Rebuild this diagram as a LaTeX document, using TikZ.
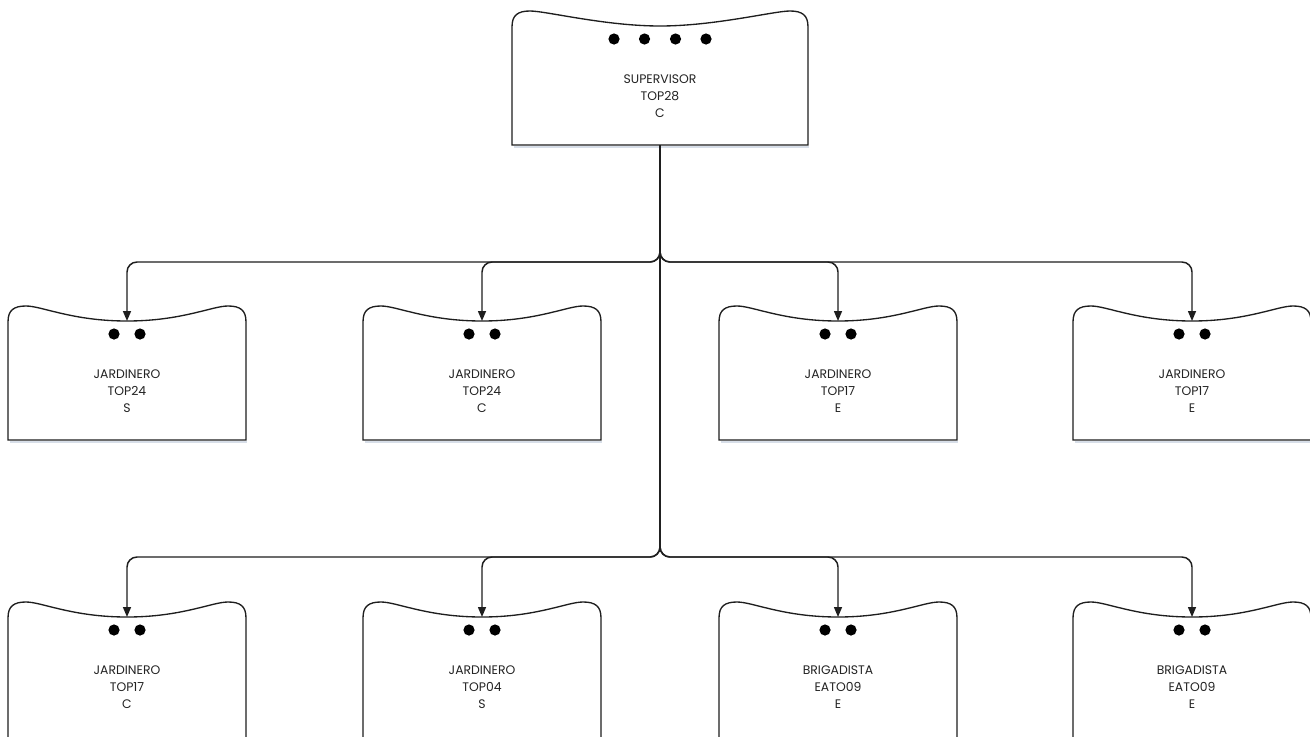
\documentclass[tikz,border=0pt]{standalone}
\usepackage{fontspec}
\setmainfont{Poppins}
\usetikzlibrary{arrows.meta}
\definecolor{inkc}{RGB}{30,30,30}
\definecolor{textc}{RGB}{35,35,35}
\definecolor{shadc}{RGB}{215,222,232}
\tikzset{
  cardline/.style={draw=inkc, line width=1pt, fill=white},
  cardtext/.style={text=textc, align=center, font=\fontsize{9.3}{12.75}\selectfont, inner sep=0pt},
  dotc/.style={fill=black},
  conn/.style={draw=inkc, line width=1.1pt, rounded corners=7.5pt, -{Triangle[length=7.5pt,width=6pt]}},
  shadowline/.style={draw=shadc, line width=1.5pt}
}
% #1 name, #2 cx, #3 half width, #4 top peak y, #5 bottom y, #6 dot offsets, #7 text
\newcommand{\orgcard}[7]{%
  \draw[shadowline] ({#2-#3+2},{#5+2}) -- ({#2+#3+1},{#5+2});
  \draw[cardline] ({#2-#3},#5) -- ({#2-#3},{#4+16})
     .. controls ({#2-#3},{#4+4}) and ({#2-#3+6},{#4}) .. ({#2-#3+18},{#4})
     .. controls ({#2-#3+34},{#4}) and ({#2-55},{#4+15}) .. ({#2},{#4+15})
     .. controls ({#2+55},{#4+15}) and ({#2+#3-34},{#4}) .. ({#2+#3-18},{#4})
     .. controls ({#2+#3-6},{#4}) and ({#2+#3},{#4+4}) .. ({#2+#3},{#4+16})
     -- ({#2+#3},#5) -- cycle;
  \coordinate (#1-in) at (#2,{#4+15});
  \coordinate (#1-out) at (#2,#5);
  \foreach \dd in {#6} { \fill[dotc] ({#2+\dd},{#4+28}) circle[radius=4.2pt]; }
  \node[cardtext] (#1) at (#2,{#4+85}) {#7};
}
\begin{document}
\begin{tikzpicture}[x=0.75pt,y=-0.75pt]
  \useasboundingbox (0,0) rectangle (1310,736);
  \clip (0,0) rectangle (1310,736);
  \fill[white] (0,0) rectangle (1310,736);

  % top
  \orgcard{sup}{660}{148}{11}{145}{-46,-15.5,15.5,46}{SUPERVISOR\\TOP28\\C}
  % row 1
  \orgcard{ja}{127}{119}{306}{440}{-13,13}{JARDINERO\\TOP24\\S}
  \orgcard{jb}{482}{119}{306}{440}{-13,13}{JARDINERO\\TOP24\\C}
  \orgcard{jc}{838}{119}{306}{440}{-13,13}{JARDINERO\\TOP17\\E}
  \orgcard{jd}{1192}{119}{306}{440}{-13,13}{JARDINERO\\TOP17\\E}
  % row 2
  \orgcard{ka}{127}{119}{602}{770}{-13,13}{JARDINERO\\TOP17\\C}
  \orgcard{kb}{482}{119}{602}{770}{-13,13}{JARDINERO\\TOP04\\S}
  \orgcard{kc}{838}{119}{602}{770}{-13,13}{BRIGADISTA\\EATO09\\E}
  \orgcard{kd}{1192}{119}{602}{770}{-13,13}{BRIGADISTA\\EATO09\\E}

  \coordinate (bus1) at (660,262);
  \coordinate (bus2) at (660,557);

  \draw[conn] (sup-out) -- (bus1) -| (ja-in);
  \draw[conn] (sup-out) -- (bus1) -| (jb-in);
  \draw[conn] (sup-out) -- (bus1) -| (jc-in);
  \draw[conn] (sup-out) -- (bus1) -| (jd-in);
  \draw[conn] (sup-out) -- (bus2) -| (ka-in);
  \draw[conn] (sup-out) -- (bus2) -| (kb-in);
  \draw[conn] (sup-out) -- (bus2) -| (kc-in);
  \draw[conn] (sup-out) -- (bus2) -| (kd-in);
\end{tikzpicture}
\end{document}
